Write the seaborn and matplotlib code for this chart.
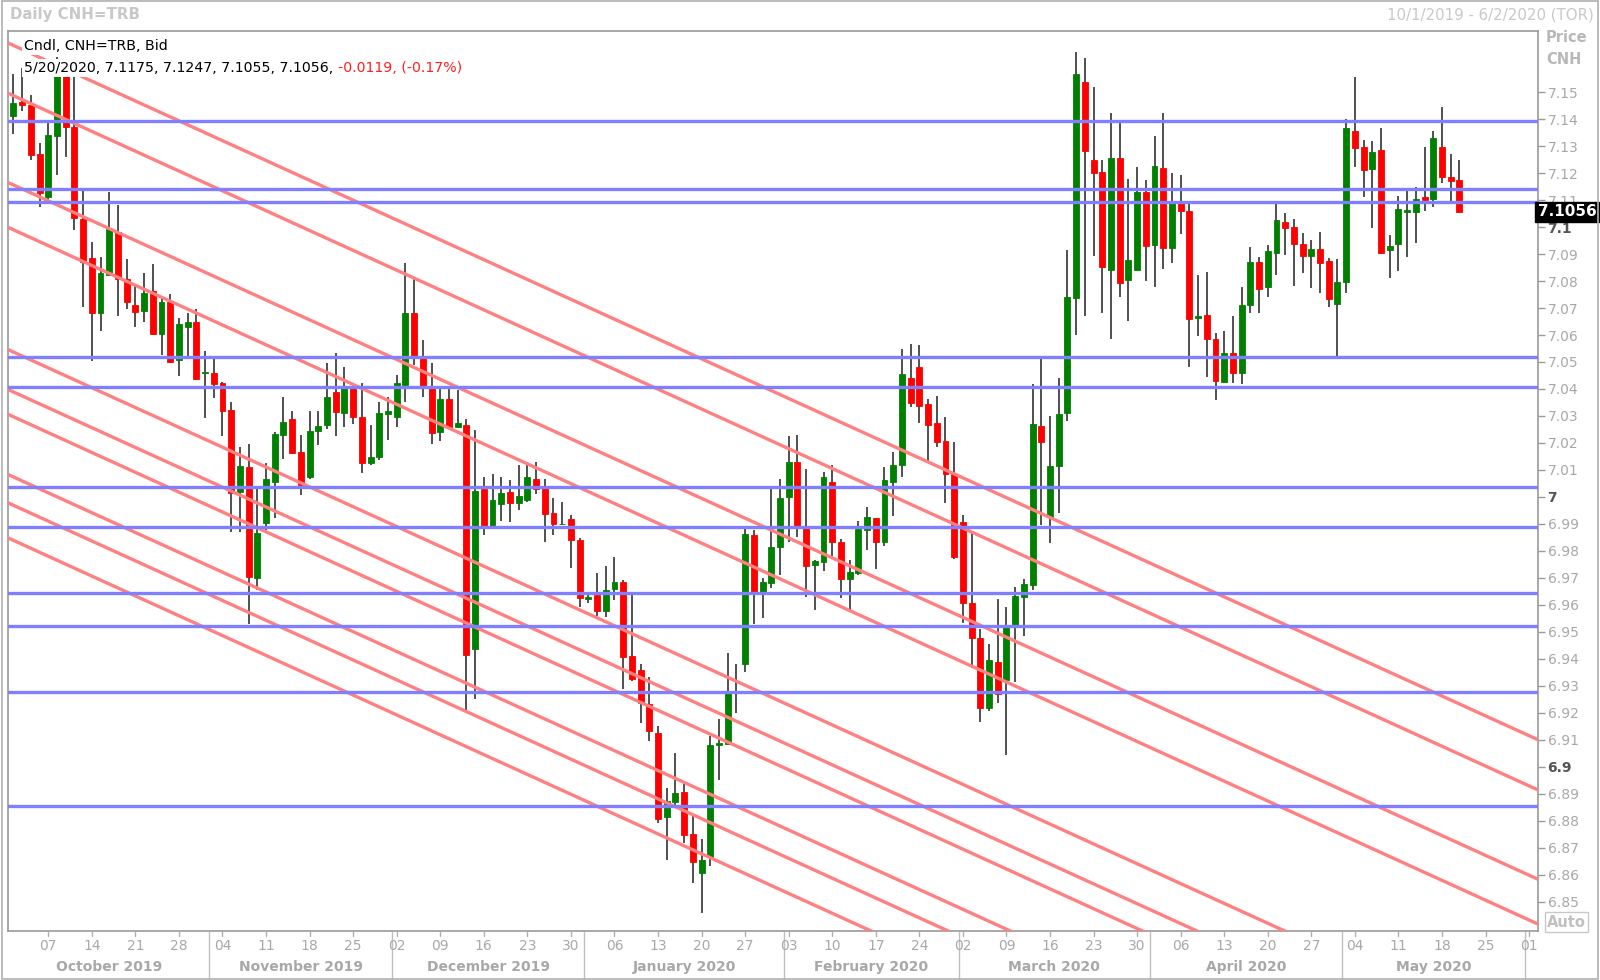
import numpy as np
import pandas as pd
import seaborn as sns
import matplotlib.pyplot as plt
from matplotlib.patches import Rectangle
import matplotlib.transforms as mtransforms

sns.set_theme(style="white")
plt.rcParams['font.family'] = ['DejaVu Sans']

# daily CNH=TRB candles, 1 Oct 2019 - 20 May 2020
opens = [7.1411, 7.1464, 7.1453, 7.1271, 7.1113, 7.1338, 7.1580, 7.1371, 7.1030, 7.0884,
         7.0683, 7.0822, 7.0981, 7.0809, 7.0712, 7.0690, 7.0763, 7.0604, 7.0723, 7.0509,
         7.0630, 7.0650, 7.0459, 7.0461, 7.0421, 7.0322, 7.0020, 7.0112, 6.9698, 6.9902,
         7.0057, 7.0230, 7.0288, 7.0165, 7.0075, 7.0244, 7.0267, 7.0390, 7.0312, 7.0409,
         7.0295, 7.0125, 7.0149, 7.0307, 7.0298, 7.0415, 7.0680, 7.0517, 7.0402, 7.0242,
         7.0362, 7.0260, 7.0266, 6.9435, 7.0028, 6.9892, 6.9973, 7.0017, 6.9976, 6.9989,
         7.0065, 7.0032, 6.9940, 6.9898, 6.9918, 6.9840, 6.9620, 6.9637, 6.9579, 6.9658,
         6.9684, 6.9410, 6.9359, 6.9233, 6.9127, 6.8813, 6.8868, 6.8908, 6.8751, 6.8608,
         6.8665, 6.9081, 6.9085, 6.9280, 6.9380, 6.9859, 6.9643, 6.9682, 6.9813, 7.0001,
         7.0131, 6.9887, 6.9748, 6.9760, 7.0057, 6.9834, 6.9695, 6.9717, 6.9878, 6.9921,
         6.9834, 7.0057, 7.0118, 7.0439, 7.0480, 7.0344, 7.0275, 7.0209, 7.0085, 6.9908,
         6.9606, 6.9476, 6.9217, 6.9390, 6.9320, 6.9517, 6.9630, 6.9674, 7.0263, 6.9927,
         7.0115, 7.0310, 7.0736, 7.1539, 7.1248, 7.1205, 7.0841, 7.1255, 7.0804, 7.0841,
         7.1131, 7.0933, 7.1220, 7.0921, 7.1088, 7.1061, 7.0662, 7.0674, 7.0584, 7.0427,
         7.0532, 7.0460, 7.0711, 7.0872, 7.0779, 7.0905, 7.1020, 7.0999, 7.0937, 7.0893,
         7.0918, 7.0875, 7.0715, 7.0798, 7.1357, 7.1295, 7.1214, 7.1285, 7.0915, 7.0937,
         7.1057, 7.1057, 7.1110, 7.1103, 7.1298, 7.1184, 7.1175]
highs = [7.1567, 7.1590, 7.1490, 7.1312, 7.1391, 7.1630, 7.1620, 7.1600, 7.1133, 7.0945,
         7.0888, 7.1129, 7.1083, 7.0882, 7.0781, 7.0829, 7.0862, 7.0743, 7.0752, 7.0663,
         7.0683, 7.0696, 7.0540, 7.0518, 7.0425, 7.0350, 7.0184, 7.0196, 7.0032, 7.0127,
         7.0242, 7.0369, 7.0320, 7.0230, 7.0320, 7.0320, 7.0497, 7.0532, 7.0483, 7.0421,
         7.0421, 7.0267, 7.0350, 7.0370, 7.0452, 7.0868, 7.0806, 7.0582, 7.0495, 7.0402,
         7.0402, 7.0396, 7.0290, 7.0248, 7.0075, 7.0085, 7.0073, 7.0063, 7.0118, 7.0127,
         7.0131, 7.0065, 6.9995, 6.9982, 6.9933, 6.9847, 6.9637, 6.9717, 6.9744, 6.9776,
         6.9692, 6.9637, 6.9381, 6.9332, 6.9151, 6.8921, 6.9050, 6.8937, 6.8816, 6.8731,
         6.9114, 6.9176, 6.9421, 6.9381, 6.9884, 6.9878, 6.9698, 7.0032, 7.0065, 7.0226,
         7.0230, 7.0102, 6.9766, 7.0094, 7.0118, 6.9843, 6.9766, 6.9912, 6.9964, 6.9921,
         7.0110, 7.0168, 7.0547, 7.0567, 7.0563, 7.0362, 7.0374, 7.0295, 7.0205, 6.9933,
         6.9865, 6.9510, 6.9455, 6.9620, 6.9591, 6.9668, 6.9695, 7.0418, 7.0514, 7.0300,
         7.0439, 7.0915, 7.1650, 7.1625, 7.1518, 7.1248, 7.1424, 7.1387, 7.1177, 7.1221,
         7.1174, 7.1337, 7.1424, 7.1199, 7.1193, 7.1088, 7.0823, 7.0835, 7.0609, 7.0616,
         7.0670, 7.0779, 7.0925, 7.0888, 7.0933, 7.1085, 7.1053, 7.1029, 7.0979, 7.0952,
         7.0983, 7.0884, 7.0880, 7.1399, 7.1557, 7.1323, 7.1320, 7.1366, 7.0971, 7.1115,
         7.1135, 7.1150, 7.1295, 7.1357, 7.1446, 7.1271, 7.1247]
lows = [7.1345, 7.1431, 7.1250, 7.1074, 7.1100, 7.1193, 7.1259, 7.0988, 7.0703, 7.0505,
        7.0614, 7.0820, 7.0670, 7.0696, 7.0628, 7.0650, 7.0600, 7.0527, 7.0495, 7.0448,
        7.0524, 7.0432, 7.0293, 7.0366, 7.0227, 6.9871, 6.9871, 6.9530, 6.9655, 6.9878,
        6.9921, 7.0139, 7.0160, 7.0007, 7.0065, 7.0192, 7.0251, 7.0226, 7.0258, 7.0270,
        7.0088, 7.0118, 7.0137, 7.0211, 7.0258, 7.0353, 7.0489, 7.0372, 7.0196, 7.0209,
        7.0255, 7.0258, 6.9206, 6.9250, 6.9859, 6.9880, 6.9912, 6.9908, 6.9952, 6.9982,
        7.0010, 6.9834, 6.9859, 6.9896, 6.9735, 6.9591, 6.9606, 6.9559, 6.9556, 6.9618,
        6.9287, 6.9319, 6.9164, 6.9097, 6.8793, 6.8653, 6.8853, 6.8717, 6.8571, 6.8460,
        6.8633, 6.8952, 6.9081, 6.9201, 6.9350, 6.9530, 6.9550, 6.9661, 6.9711, 6.9834,
        6.9853, 6.9630, 6.9580, 6.9727, 6.9780, 6.9624, 6.9580, 6.9710, 6.9803, 6.9732,
        6.9818, 6.9929, 7.0073, 7.0334, 7.0273, 7.0125, 7.0184, 6.9976, 6.9769, 6.9532,
        6.9365, 6.9167, 6.9205, 6.9238, 6.9043, 6.9316, 6.9485, 6.9655, 6.9896, 6.9828,
        6.9940, 7.0280, 7.0600, 7.0670, 7.0893, 7.0683, 7.0584, 7.0742, 7.0653, 7.0841,
        7.0801, 7.0777, 7.0843, 7.0868, 7.0974, 7.0483, 7.0596, 7.0446, 7.0359, 7.0424,
        7.0424, 7.0419, 7.0680, 7.0683, 7.0740, 7.0822, 7.0896, 7.0782, 7.0830, 7.0773,
        7.0754, 7.0703, 7.0522, 7.0757, 7.1221, 7.1110, 7.0995, 7.0900, 7.0810, 7.0838,
        7.0888, 7.0942, 7.1060, 7.1073, 7.1162, 7.1098, 7.1055]
closes = [7.1461, 7.1451, 7.1268, 7.1126, 7.1341, 7.1580, 7.1371, 7.1034, 7.0871, 7.0683,
          7.0831, 7.0994, 7.0809, 7.0723, 7.0686, 7.0756, 7.0604, 7.0723, 7.0501, 7.0641,
          7.0650, 7.0438, 7.0462, 7.0419, 7.0319, 7.0013, 7.0115, 6.9702, 6.9865, 7.0065,
          7.0233, 7.0279, 7.0164, 7.0044, 7.0246, 7.0263, 7.0369, 7.0316, 7.0402, 7.0297,
          7.0127, 7.0149, 7.0310, 7.0320, 7.0421, 7.0680, 7.0517, 7.0402, 7.0238, 7.0362,
          7.0260, 7.0273, 6.9414, 7.0022, 6.9892, 6.9989, 7.0013, 6.9976, 7.0003, 7.0073,
          7.0029, 6.9937, 6.9898, 6.9898, 6.9840, 6.9624, 6.9630, 6.9579, 6.9655, 6.9684,
          6.9408, 6.9324, 6.9238, 6.9134, 6.8806, 6.8875, 6.8902, 6.8748, 6.8649, 6.8655,
          6.9081, 6.9090, 6.9282, 6.9282, 6.9863, 6.9643, 6.9686, 6.9813, 6.9995, 7.0131,
          6.9892, 6.9744, 6.9764, 7.0075, 6.9834, 6.9695, 6.9720, 6.9880, 6.9925, 6.9834,
          7.0063, 7.0118, 7.0455, 7.0349, 7.0337, 7.0265, 7.0205, 7.0085, 6.9779, 6.9608,
          6.9476, 6.9217, 6.9396, 6.9270, 6.9517, 6.9633, 6.9677, 7.0270, 7.0205, 7.0115,
          7.0307, 7.0742, 7.1567, 7.1280, 7.1201, 7.0853, 7.1255, 7.0794, 7.0878, 7.1131,
          7.0930, 7.1226, 7.0921, 7.1098, 7.1061, 7.0658, 7.0670, 7.0584, 7.0431, 7.0532,
          7.0460, 7.0711, 7.0872, 7.0769, 7.0912, 7.1026, 7.0995, 7.0937, 7.0893, 7.0918,
          7.0868, 7.0732, 7.0798, 7.1366, 7.1292, 7.1211, 7.1279, 7.0905, 7.0930, 7.1066,
          7.1063, 7.1103, 7.1100, 7.1331, 7.1184, 7.1172, 7.1056]

# horizontal support / resistance levels (blue)
h_levels = [7.1394, 7.1141, 7.1094, 7.0517, 7.0409, 7.0038, 6.9890, 6.9643, 6.9523, 6.9277, 6.8854]
# parallel down-trend lines (red): value at first bar, common slope per bar
trend_starts = [7.1673, 7.1487, 7.1156, 7.0990, 7.0537, 7.0389, 7.0297, 7.0074, 6.9969, 6.9839]
trend_slope = -0.00147

days = pd.bdate_range('2019-10-01', '2020-06-02')
df = pd.DataFrame({'date': days[:len(opens)], 'open': opens, 'high': highs,
                   'low': lows, 'close': closes})
df['x'] = np.arange(len(df))
df['up'] = df['close'] >= df['open']

fig = plt.figure(figsize=(16, 9.8), dpi=100)
ax = fig.add_axes([8.2 / 1600, 1 - 930.6 / 980, 1529.6 / 1600, 900 / 980])
xmin, xmax = -0.6, 175.0
ax.set_xlim(xmin, xmax)
ax.set_ylim(6.8393, 7.1728)

# wicks and bodies
ax.vlines(df['x'], df['low'], df['high'], color='#202020', lw=1.1, zorder=2)
body_lo = np.minimum(df['open'], df['close'])
body_h = np.maximum(np.abs(df['close'] - df['open']), 0.00025)
cols = np.where(df['up'], '#008000', '#ff0000')
ax.bar(df['x'], body_h, bottom=body_lo, width=0.68, color=cols,
       edgecolor=cols, linewidth=0.6, zorder=3)

# levels and trend lines on top
xs = np.array([xmin, xmax])
for p0 in trend_starts:
    sns.lineplot(x=xs, y=p0 + trend_slope * xs, ax=ax, color='#ff8080', lw=2.4, zorder=4)
for lv in h_levels:
    ax.axhline(lv, color='#8080ff', lw=2.4, zorder=4)

# frame
for s in ax.spines.values():
    s.set_color('#9a9a9a')
    s.set_linewidth(1.2)

# right price axis
ax.yaxis.tick_right()
yt = np.round(np.arange(6.85, 7.1501, 0.01), 2)
ax.set_yticks(yt)
ax.set_yticklabels([f'{v:g}' for v in yt])
ax.tick_params(axis='y', which='major', right=True, length=5, width=1,
               color='#9a9a9a', labelcolor='#a8a8a8', labelsize=10, pad=2)
for lab, v in zip(ax.get_yticklabels(), yt):
    if abs(v * 10 - round(v * 10)) < 1e-6:
        lab.set_color('#555555')
        lab.set_fontweight('bold')

# bottom date axis drawn as text
ax.set_xticks([])
ax.tick_params(axis='x', bottom=False, labelbottom=False)
all_days = pd.Series(days)
trans = mtransforms.blended_transform_factory(ax.transData, fig.transFigure)
mondays = np.where(all_days.dt.dayofweek == 0)[0]
for i in mondays:
    ax.text(i, 1 - 946 / 980, all_days[i].strftime('%d'), transform=trans,
            ha='center', va='center', fontsize=10, color='#a8a8a8')
    ax.plot([i, i], [1 - 932 / 980, 1 - 936 / 980], transform=trans,
            color='#b0b0b0', lw=1, clip_on=False)
months = all_days.dt.to_period('M')
for m in months.unique():
    idx = np.where(months == m)[0]
    if idx[0] > 0:
        b = idx[0] - 0.5
        ax.plot([b, b], [1 - 932 / 980, 1 - 978 / 980], transform=trans,
                color='#c0c0c0', lw=1, clip_on=False)
    if len(idx) < 5:
        continue
    mid = (idx[0] + idx[-1]) / 2
    ax.text(mid, 1 - 967 / 980, m.strftime('%B %Y'), transform=trans,
            ha='center', va='center', fontsize=10, color='#a8a8a8', fontweight='bold')

# headers and legend
fig.text(10 / 1600, 1 - 15 / 980, 'Daily CNH=TRB', fontsize=10.8, fontweight='bold',
         color='#c8c8c8', va='center')
fig.text(1594 / 1600, 1 - 15 / 980, '10/1/2019 - 6/2/2020 (TOR)', fontsize=10.8,
         color='#c8c8c8', va='center', ha='right')
fig.text(1546 / 1600, 1 - 38 / 980, 'Price', fontsize=10.5, fontweight='bold',
         color='#b8b8b8', va='center')
fig.text(1546 / 1600, 1 - 60 / 980, 'CNH', fontsize=10.5, fontweight='bold',
         color='#b8b8b8', va='center')
box = dict(boxstyle='square,pad=0.15', fc='white', ec='none')
fig.text(24 / 1600, 1 - 46 / 980, 'Cndl, CNH=TRB, Bid', fontsize=10.2, color='black',
         va='center', bbox=box, zorder=10)
t1 = fig.text(24 / 1600, 1 - 68 / 980, '5/20/2020, 7.1175, 7.1247, 7.1055, 7.1056, ',
              fontsize=10.2, color='black', va='center', bbox=box, zorder=10)
fig.canvas.draw()
bb = t1.get_window_extent()
fig.text(bb.x1 / 1600, 1 - 68 / 980, '-0.0119, (-0.17%)', fontsize=10.2, color='#ff2020',
         va='center', bbox=box, zorder=10)

# last price tag
ax.text(1.0, closes[-1], '7.1056', transform=mtransforms.blended_transform_factory(
        ax.transAxes, ax.transData), ha='left', va='center', fontsize=11,
        fontweight='bold', color='white', zorder=10, clip_on=False,
        bbox=dict(boxstyle='square,pad=0.18', fc='black', ec='black'))

# Auto button
fig.text(1547 / 1600, 1 - 922 / 980, 'Auto', fontsize=10.5, fontweight='bold', color='#c0c0c0',
         va='center', bbox=dict(boxstyle='square,pad=0.15', fc='white', ec='#c8c8c8'))

# outer border
fig.patches.append(Rectangle((0.001, 0.001), 0.998, 0.998, transform=fig.transFigure,
                             fill=False, ec='#b0b0b0', lw=1.2))

fig.savefig('out.png', dpi=100)
